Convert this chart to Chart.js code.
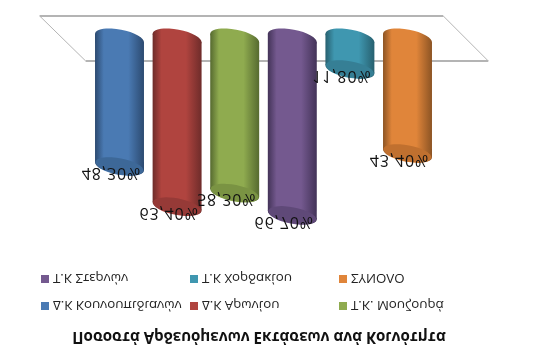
<!DOCTYPE html>
<html><head><meta charset="utf-8">
<style>
html,body{margin:0;padding:0;background:#fff;overflow:hidden}
#flip{position:absolute;left:0;top:0;width:535px;height:357px;transform:scaleY(-1);background:#fff}
#flip canvas{position:absolute;left:0;top:0}
#title{position:absolute;left:0;width:518px;top:9px;text-align:center;font:bold 15.1px "Open Sans",sans-serif;color:#111;white-space:nowrap;line-height:20px}
.li{position:absolute;font:13.3px "Open Sans",sans-serif;color:#222;white-space:nowrap;line-height:16px}
.li i{position:absolute;left:-12px;top:4px;width:8px;height:8px}
</style>
<script src="https://cdn.jsdelivr.net/npm/chart.js@4/dist/chart.umd.min.js"></script>
</head><body>
<div id="flip"><canvas id="c" width="535" height="357"></canvas><div id="title"></div></div>
<script>
const titleText = "Ποσοστά Αρδευόμενων Εκτάσεων ανά Κοινότητα";
const categories = ["Δ.Κ Κουνουπιδιανών","Δ.Κ Αρωνίου","Τ.Κ.  Μουζουρά","Τ.Κ Στερνών","Τ.Κ Χορδακίου","ΣΥΝΟΛΟ"];
const values = [48.3,63.4,58.3,66.7,11.8,43.4];
const valueLabels = ["48,30%","63,40%","58,30%","66,70%","11,80%","43,40%"];
const baseColors = ["#4a7ab3","#b0443f","#8fab4f","#74598f","#3f97b0","#e0853a"];
const edgeColors = ["#2c4a70","#6e2c2a","#566a30","#433358","#27606f","#8c5424"];
const faceColors = ["#3d6898","#963a37","#7a9343","#5f4978","#367f95","#c0702f"];
const legendSpots = [[53,43],[202,43],[351,43],[53,70],[202,70],[351,70]];

document.getElementById('title').textContent = titleText;
const flip = document.getElementById('flip');
categories.forEach((t,i)=>{
  const d=document.createElement('div'); d.className='li';
  d.style.left=legendSpots[i][0]+'px'; d.style.top=legendSpots[i][1]+'px';
  d.textContent=t;
  const s=document.createElement('i'); s.style.background=baseColors[i]; d.appendChild(s);
  flip.appendChild(d);
});

function grad(ctx,x,w,i){
  const g=ctx.createLinearGradient(x-w/2,0,x+w/2,0);
  g.addColorStop(0,edgeColors[i]); g.addColorStop(0.18,baseColors[i]);
  g.addColorStop(0.68,baseColors[i]); g.addColorStop(1,edgeColors[i]);
  return g;
}
const TILT=-0.19, RY=8.5;
function radii(w){
  const s=Math.sin(TILT),co=Math.cos(TILT);
  const rx=Math.sqrt((w*w/4-RY*RY*s*s)/(co*co));
  const dy=(rx*rx-RY*RY)*s*co/(w/2);
  return {rx,dy};
}
const cylinder={
  id:'cylinder',
  beforeDatasetsDraw(chart){
    const c=chart.ctx,a=chart.chartArea;
    c.save();c.strokeStyle='#b4b4b4';c.lineWidth=1;
    const yf=a.bottom-23, yb=a.bottom+22;
    const xl=a.left-5, xr=a.right+52;
    c.beginPath();c.moveTo(xl,yf);c.lineTo(xl-46,yb);c.moveTo(xr-45,yb);c.lineTo(xr,yf);c.stroke();
    c.lineWidth=2;c.beginPath();c.moveTo(xl,yf);c.lineTo(xr,yf);c.moveTo(xl-46,yb);c.lineTo(xr-45,yb);c.stroke();
    c.restore();
  },
  beforeDatasetDraw(chart){
    const c=chart.ctx;
    c.save();
    const els=chart.getDatasetMeta(0).data;
    els.forEach((b,i)=>{
      const w=b.width,{rx,dy}=radii(w);
      c.fillStyle=grad(c,b.x,w,i);
      c.beginPath();c.ellipse(b.x,b.base,rx,RY,TILT,0,Math.PI*2);c.fill();
      c.beginPath();c.ellipse(b.x,b.y,rx,RY,TILT,0,Math.PI*2);c.fill();
      c.beginPath();
      c.moveTo(b.x-w/2,b.base-dy);c.lineTo(b.x+w/2,b.base+dy);
      c.lineTo(b.x+w/2,b.y+dy);c.lineTo(b.x-w/2,b.y-dy);c.closePath();c.fill();
      c.fillStyle=faceColors[i];
      c.beginPath();c.ellipse(b.x,b.y,rx-0.5,RY-0.5,TILT,0,Math.PI*2);c.fill();
    });
    c.font='16px "Open Sans",sans-serif';c.fillStyle='#111';
    c.letterSpacing='0.9px';
    c.textAlign='center';c.textBaseline='middle';
    els.forEach((b,i)=>{
      c.fillText(valueLabels[i],b.x-8,b.y-6);
    });
    c.restore();
    return false;
  }
};
new Chart(document.getElementById('c'),{
  type:'bar',
  data:{labels:categories,datasets:[{data:values,borderWidth:0,backgroundColor:baseColors,
    barPercentage:0.85,categoryPercentage:1}]},
  options:{
    responsive:false,animation:false,
    layout:{padding:{left:90.7,right:98.7,top:133,bottom:38}},
    plugins:{legend:{display:false},title:{display:false},tooltip:{enabled:false}},
    scales:{
      x:{display:false},
      y:{display:false,min:0,max:70}
    }
  },
  plugins:[cylinder]
});
</script>
</body></html>
